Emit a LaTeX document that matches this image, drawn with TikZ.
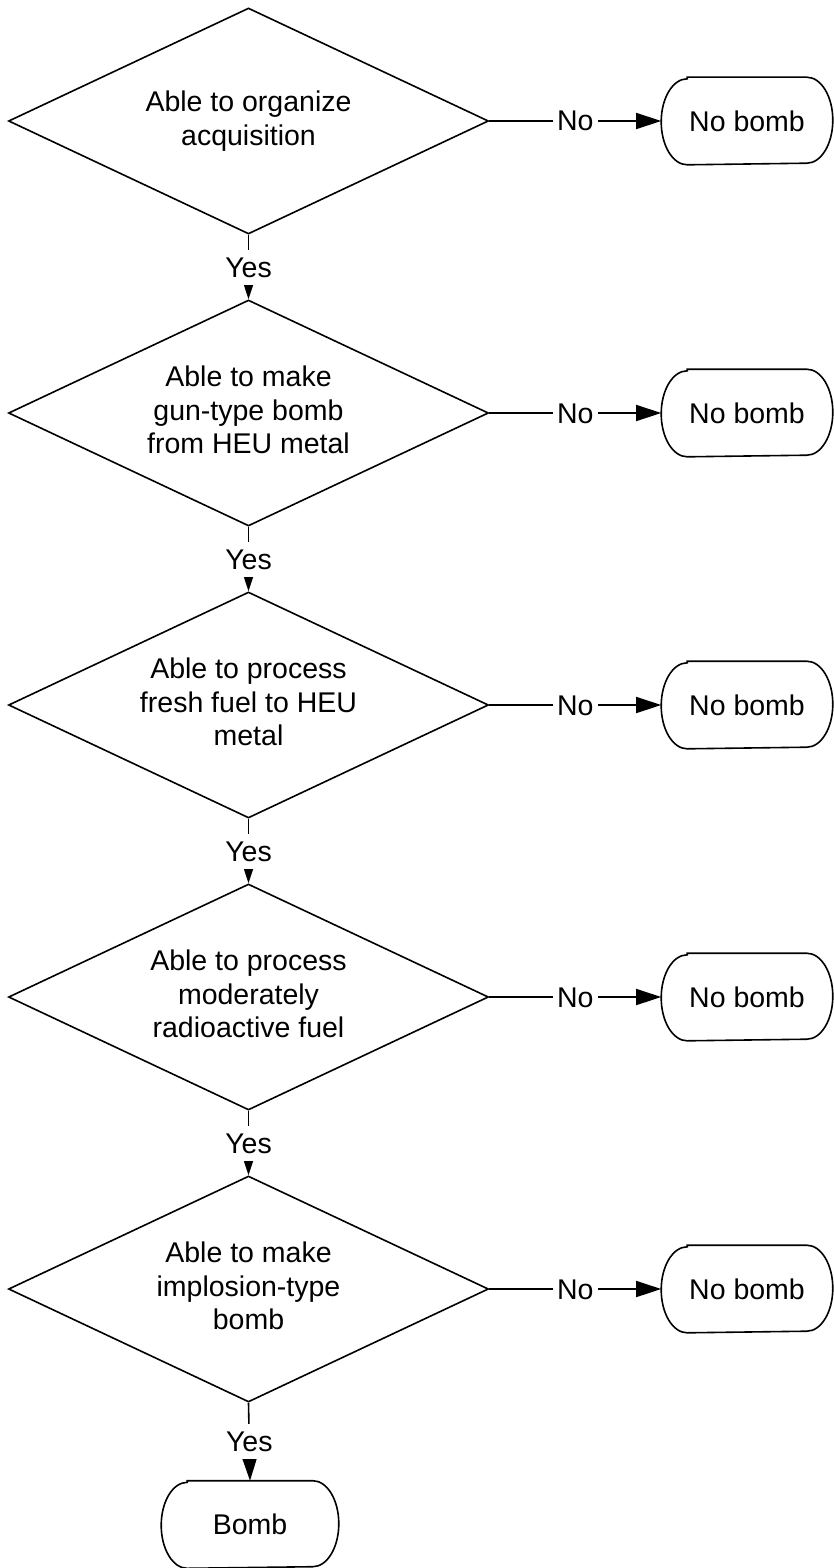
\documentclass[tikz,border=0pt]{standalone}
\usepackage{fontspec}
\setmainfont{Liberation Sans}
\usetikzlibrary{shapes.geometric,arrows.meta}

% invisible rule giving every text block the font's full ascent and descent
\newcommand\linestrut{\rule[-6pt]{0pt}{32pt}}

\begin{document}
\begin{tikzpicture}[x=1pt,y=-1pt,
  line width=1.6pt,
  every node/.style={font=\fontsize{28.5pt}{33.5pt}\selectfont},
  decision/.style={diamond,draw,aspect=2.12,inner sep=0pt,
    minimum width=480pt,minimum height=226pt,align=center,
    execute at begin node=\linestrut,execute at end node=\linestrut},
  terminal/.style={rectangle,draw=none,inner sep=0pt,
    minimum height=86pt,align=center},
  lbl/.style={fill=white,inner xsep=4.5pt,inner ysep=7.5pt,
    text height=20pt,text depth=0pt},
  flow/.style={-{Triangle[length=25pt,width=16pt]}}
]
\useasboundingbox (0,0) rectangle (833,1568);

% decisions
\node[decision] (d1) at (248.5,121) {Able to organize\\acquisition};
\node[decision] (d2) at (248.5,413) {Able to make\\gun-type bomb\\from HEU metal};
\node[decision] (d3) at (248.5,705) {Able to process\\fresh fuel to HEU\\metal};
\node[decision] (d4) at (248.5,997) {Able to process\\moderately\\radioactive fuel};
\node[decision] (d5) at (248.5,1289) {Able to make\\implosion-type\\bomb};

% outcomes
\foreach \i/\y in {1/121,2/413,3/705,4/997,5/1289}
  \node[terminal,minimum width=170pt] (n\i) at (747,\y) {No bomb};
\node[terminal,minimum width=176pt] (b) at (250,1524.5) {Bomb};

% outcome outlines: straight top and bottom with elliptical ends
\foreach \n in {n1,n2,n3,n4,n5,b}
  \draw ([xshift=26pt]\n.north west) -- ([xshift=-26pt]\n.north east)
    arc[start angle=90,end angle=-90,x radius=26pt,y radius=43pt]
    -- ([xshift=26pt]\n.south west)
    arc[start angle=270,end angle=90,x radius=26pt,y radius=43pt] -- cycle;

% connectors
\foreach \i in {1,...,5}
  \draw[flow] (d\i.east) -- node[lbl] {No} (n\i.west);
\draw[flow] (d1.south) -- node[lbl] {Yes} (d2.north);
\draw[flow] (d2.south) -- node[lbl] {Yes} (d3.north);
\draw[flow] (d3.south) -- node[lbl] {Yes} (d4.north);
\draw[flow] (d4.south) -- node[lbl] {Yes} (d5.north);
\draw[flow] (d5.south) -- node[lbl] {Yes} (b.north);
\end{tikzpicture}
\end{document}
